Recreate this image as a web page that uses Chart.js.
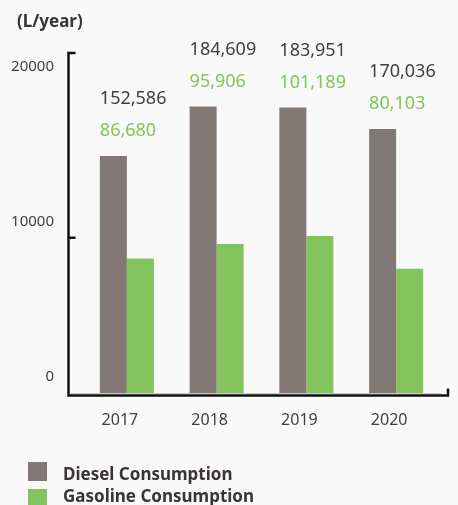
<!DOCTYPE html>
<html>
<head>
<meta charset="utf-8">
<title>Fuel Consumption</title>
<script src="https://cdn.jsdelivr.net/npm/chart.js@4.4.0/dist/chart.umd.min.js"></script>
<style>
	html, body { margin: 0; padding: 0; background: #f9f9f9; }
	#wrap { width: 458px; height: 505px; }
</style>
</head>
<body>
<div id="wrap"><canvas id="myChart" width="458" height="505"></canvas></div>
<script>
// chart data
var years = ['2017', '2018', '2019', '2020'];
var diesel = [152586, 184609, 183951, 170036];
var gasoline = [86680, 95906, 101189, 80103];
var seriesNames = ['Diesel Consumption', 'Gasoline Consumption'];
var unitLabel = '(L/year)';
var yTickValues = [0, 100000, 200000];
var yTickLabels = ['0', '10000', '20000'];

var dieselColor = '#827876';
var gasolineColor = '#84c45c';
var textColor = '#3f3f3f';
var fontFamily = '"Noto Sans", "Open Sans", sans-serif';

// axis frame, unit, value labels and legend
var decor = {
	id: 'decor',
	afterDatasetsDraw: function(chart) {
		var ctx = chart.ctx;
		var area = chart.chartArea;
		var yScale = chart.scales.y;

		ctx.save();

		// thin grey baseline under the bars
		ctx.strokeStyle = '#c8c8c8';
		ctx.lineWidth = 1;
		ctx.beginPath();
		ctx.moveTo(area.left - 12, area.bottom + 0.5);
		ctx.lineTo(area.right, area.bottom + 0.5);
		ctx.stroke();

		// black L shaped axis with end caps
		var left = area.left - 13.5;
		var bottom = area.bottom + 2.5;
		var right = area.right + 7;
		ctx.strokeStyle = '#111';
		ctx.lineWidth = 2.5;
		ctx.lineJoin = 'miter';
		ctx.beginPath();
		ctx.moveTo(left + 7, area.top);
		ctx.lineTo(left, area.top);
		ctx.lineTo(left, bottom);
		ctx.lineTo(right, bottom);
		ctx.lineTo(right, bottom - 7);
		ctx.stroke();

		// middle tick
		var ym = yScale.getPixelForValue(yTickValues[1]);
		ctx.beginPath();
		ctx.moveTo(left, ym);
		ctx.lineTo(left + 7, ym);
		ctx.stroke();

		// unit above the axis
		ctx.textAlign = 'left';
		ctx.textBaseline = 'middle';
		ctx.fillStyle = '#3a3434';
		ctx.font = 'bold 17px ' + fontFamily;
		ctx.fillText(unitLabel, 17, 22);

		// value labels, left aligned on the diesel bar
		var dBars = chart.getDatasetMeta(0).data;
		ctx.font = '18px ' + fontFamily;
		for (var i = 0; i < dBars.length; i++) {
			var bar = dBars[i];
			var x = bar.x - bar.width / 2;
			ctx.fillStyle = textColor;
			ctx.fillText(diesel[i].toLocaleString('en-US'), x, bar.y - 57);
			ctx.fillStyle = gasolineColor;
			ctx.fillText(gasoline[i].toLocaleString('en-US'), x, bar.y - 25);
		}

		// legend
		var colors = [dieselColor, gasolineColor];
		var boxTops = [462, 489];
		var textYs = [475, 497];
		ctx.font = 'bold 17px ' + fontFamily;
		for (var j = 0; j < seriesNames.length; j++) {
			ctx.fillStyle = colors[j];
			ctx.fillRect(28, boxTops[j], 19, 19);
			ctx.fillStyle = '#3a3434';
			ctx.fillText(seriesNames[j], 63, textYs[j]);
		}

		ctx.restore();
	}
};

var $chart = document.getElementById('myChart');
var myBarChart = new Chart($chart, {
	type: 'bar',
	data: {
		labels: years,
		datasets: [{
			label: seriesNames[0],
			data: diesel,
			backgroundColor: dieselColor,
			barPercentage: 1.0,
			categoryPercentage: 0.602
		}, {
			label: seriesNames[1],
			data: gasoline,
			backgroundColor: gasolineColor,
			barPercentage: 1.0,
			categoryPercentage: 0.602
		}]
	},
	options: {
		responsive: false,
		animation: false,
		devicePixelRatio: 1,
		layout: { padding: { top: 53, right: 17, bottom: 72, left: 0 } },
		plugins: {
			legend: { display: false },
			tooltip: { enabled: false },
			title: { display: false }
		},
		scales: {
			x: {
				grid: { display: false },
				border: { display: false },
				ticks: {
					color: textColor,
					font: { family: fontFamily, size: 16 },
					padding: 10,
					labelOffset: -7
				},
				afterFit: function(scale) { scale.height = 40; }
			},
			y: {
				min: 0,
				max: 219000,
				grid: { display: false },
				border: { display: false },
				afterBuildTicks: function(scale) {
					scale.ticks = yTickValues.map(function(v) { return { value: v }; });
				},
				ticks: {
					color: textColor,
					font: { family: fontFamily, size: 15 },
					padding: 20,
					labelOffset: -16,
					callback: function(value) {
						return yTickLabels[yTickValues.indexOf(value)];
					}
				},
				afterFit: function(scale) { scale.width = 82; }
			}
		}
	},
	plugins: [decor]
});
</script>
</body>
</html>
